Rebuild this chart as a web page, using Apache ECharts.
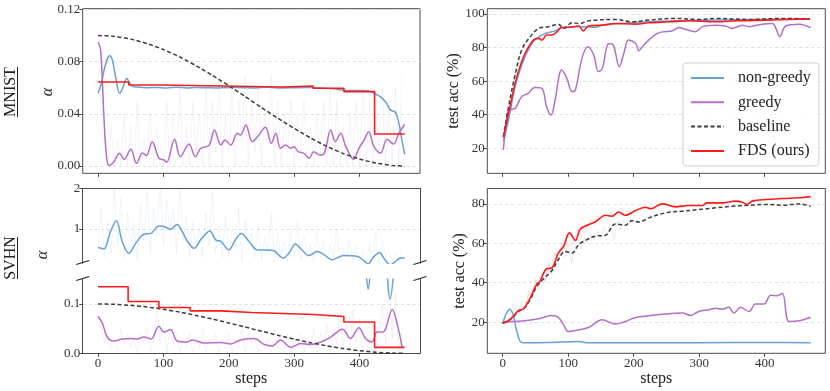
<!DOCTYPE html>
<html>
<head>
<meta charset="utf-8">
<script src="https://cdn.jsdelivr.net/npm/echarts@6.0.0/dist/echarts.min.js"></script>
<style>
html, body { margin: 0; padding: 0; background: #fff; }
#chart { width: 830px; height: 391px; }
</style>
</head>
<body>
<div id="chart"></div>
<script>
// tick positions on the steps axis
var stepTicks = [0, 100, 200, 300, 400];

// MNIST - alpha
var mnBlueX = [0, 5, 10, 15, 18, 22, 27, 33, 38, 44, 51, 60, 75, 90, 105, 120, 135, 150, 165, 180, 200, 220, 240, 260, 280, 300, 320, 340, 360, 376, 395, 412, 425, 432, 440, 447, 455, 460, 464, 469];
var mnBlueY = [0.0557, 0.063, 0.075, 0.083, 0.0845, 0.081, 0.068, 0.0557, 0.060, 0.067, 0.0615, 0.0605, 0.0600, 0.0602, 0.0598, 0.0603, 0.0598, 0.0601, 0.0600, 0.0598, 0.0602, 0.0600, 0.0598, 0.0603, 0.0597, 0.0600, 0.0601, 0.0597, 0.0592, 0.0580, 0.0578, 0.0577, 0.055, 0.053, 0.049, 0.043, 0.041, 0.033, 0.022, 0.009];
var mnPurpleX = [0, 4, 9, 13, 17, 24, 33, 40, 50, 59, 68, 74, 83, 93, 101, 105, 117, 126, 139, 149, 157, 170, 178, 188, 194, 203, 213, 218, 226, 236, 244, 256, 265, 272, 279, 287, 295, 300, 306, 315, 323, 330, 339, 346, 356, 363, 371, 379, 391, 399, 407, 414, 422, 432, 442, 452, 460, 469];
var mnPurpleY = [0.095, 0.089, 0.038, 0.007, 0.0003, 0.003, 0.0097, 0.005, 0.0128, 0.002, 0.010, 0.008, 0.0186, 0.006, 0.0046, 0.0028, 0.0204, 0.0071, 0.0168, 0.0071, 0.0135, 0.016, 0.0276, 0.016, 0.020, 0.016, 0.025, 0.0237, 0.0314, 0.0186, 0.0225, 0.0296, 0.0174, 0.025, 0.0135, 0.016, 0.0135, 0.0148, 0.011, 0.0097, 0.0059, 0.011, 0.0084, 0.0097, 0.0276, 0.0186, 0.025, 0.0148, 0.0051, 0.0135, 0.020, 0.0263, 0.0148, 0.0097, 0.0204, 0.0168, 0.025, 0.032];
var mnRedX = [0, 47, 94, 282, 329, 376, 423, 469];
var mnRedY = [0.0643, 0.0620, 0.0605, 0.0613, 0.0595, 0.0570, 0.0245, 0.0245];
// greedy raw (every 5 steps)
var mnPurpleRaw = [0.1, 0.09, 0.02, 0.0, 0.03, 0.0, 0.02, 0.0, 0.04, 0.0, 0.03, 0.0, 0.05, 0.0, 0.02, 0.01, 0.04, 0.0, 0.03, 0.0,
    0.0, 0.05, 0.0, 0.04, 0.01, 0.06, 0.0, 0.03, 0.0, 0.05, 0.01, 0.04, 0.0, 0.06, 0.0, 0.05, 0.01, 0.07, 0.0, 0.04,
    0.01, 0.06, 0.0, 0.05, 0.02, 0.07, 0.0, 0.05, 0.01, 0.06, 0.0, 0.04, 0.02, 0.07, 0.0, 0.05, 0.0, 0.04, 0.01, 0.05,
    0.0, 0.04, 0.01, 0.05, 0.0, 0.03, 0.0, 0.04, 0.01, 0.05, 0.0, 0.06, 0.0, 0.05, 0.0, 0.03, 0.0, 0.04, 0.0, 0.05,
    0.0, 0.06, 0.0, 0.05, 0.0, 0.04, 0.01, 0.06, 0.0, 0.05, 0.0, 0.06, 0.0, 0.07];

// baseline lr schedule (same in both alpha panels)
var baseX = [0, 25, 50, 75, 100, 125, 150, 175, 200, 225, 250, 275, 300, 325, 350, 375, 400, 425, 450, 469];
var baseY = [0.1, 0.0993, 0.0972, 0.0938, 0.0892, 0.0835, 0.0768, 0.0694, 0.0615, 0.0532, 0.0448, 0.0366, 0.0288, 0.0215, 0.0150, 0.0096, 0.0053, 0.0023, 0.0004, 0.0];

// MNIST - test acc
var maBlueX = [1, 9, 19, 29, 39, 49, 65, 80, 90, 121, 141, 152, 223, 325, 469];
var maBlueY = [24, 36.9, 56.7, 69.6, 78.6, 84.5, 88.5, 90, 92, 92.5, 92, 93.4, 95.4, 96.4, 97.2];
var maPurpleX = [1, 5, 9, 19, 29, 39, 49, 60, 67, 74, 80, 90, 98, 106, 111, 121, 130, 139, 146, 152, 162, 169, 178, 185, 192, 203, 208, 213, 223, 236, 246, 259, 269, 279, 294, 305, 325, 340, 350, 366, 376, 396, 412, 417, 423, 432, 453, 470];
var maPurpleY = [19, 33, 42.8, 43.8, 50.8, 52.8, 56.3, 55.7, 44.8, 39.9, 48.8, 66.6, 61.7, 53.7, 54.7, 73.6, 80.5, 75.6, 65.7, 67.6, 82.5, 81.5, 68.6, 76.6, 84.5, 82.5, 78.2, 80.5, 84.5, 88.5, 89.5, 90, 92, 90.9, 89.5, 92.5, 93.4, 92.9, 91.5, 93.4, 92.5, 94, 94.4, 91.5, 86.5, 92.9, 94, 91.9];
var maBaseX = [1, 9, 19, 29, 42, 55, 70, 85, 93, 106, 118, 131, 172, 197, 223, 264, 299, 325, 376, 427, 469];
var maBaseY = [27, 44.8, 63.7, 78.6, 86.5, 91.5, 92.5, 94, 91.5, 94.8, 94.4, 96, 96.8, 95.4, 96.4, 97.4, 96.8, 97.4, 96.8, 97.4, 97];
var maRedX = [1, 9, 19, 29, 37, 47, 55, 60, 67, 75, 83, 90, 100, 116, 123, 131, 152, 172, 203, 223, 254, 284, 325, 356, 402, 437, 469];
var maRedY = [26.5, 40.8, 58.7, 71.6, 78.6, 84.5, 85.5, 84.5, 87.5, 87.5, 89.5, 92, 92, 92.9, 90, 92.9, 93.4, 94.4, 94, 94.8, 95.4, 96, 95.4, 96, 96.4, 96.8, 97];

// SVHN - alpha
var svBlueX = [0, 9, 19, 28, 37, 47, 58, 70, 81, 93, 101, 111, 121, 129, 137, 147, 157, 171, 180, 188, 200, 210, 219, 231, 244, 259, 269, 283, 292, 302, 312, 323, 335, 346, 358, 376, 397, 407, 413, 421, 431, 437, 447, 455, 463, 469];
var svBlueY = [0.54, 0.51, 0.93, 1.20, 0.69, 0.40, 0.65, 0.87, 0.89, 1.07, 1.06, 0.99, 1.11, 0.93, 0.69, 0.52, 0.73, 0.95, 0.73, 0.69, 0.48, 0.73, 0.89, 0.69, 0.48, 0.48, 0.46, 0.28, 0.40, 0.63, 0.48, 0.34, 0.44, 0.36, 0.24, 0.34, 0.32, 0.21, 0.13, 0.3, 0.42, 0.28, 0.11, 0.2, 0.28, 0.28];
var svPurpleX = [0, 7, 14, 24, 37, 50, 60, 70, 81, 93, 101, 111, 121, 137, 144, 162, 188, 203, 218, 239, 254, 267, 279, 295, 310, 325, 341, 356, 374, 386, 399, 409, 419, 427, 436, 450, 458, 465];
var svPurpleY = [0.075, 0.06, 0.033, 0.025, 0.029, 0.030, 0.029, 0.033, 0.029, 0.055, 0.043, 0.048, 0.025, 0.023, 0.027, 0.021, 0.022, 0.019, 0.027, 0.030, 0.018, 0.015, 0.027, 0.012, 0.020, 0.018, 0.023, 0.033, 0.049, 0.030, 0.052, 0.030, 0.023, 0.043, 0.043, 0.089, 0.057, 0.013];
var svRedX = [0, 46, 93, 141, 188, 235, 282, 329, 376, 423, 469];
var svRedY = [0.135, 0.105, 0.0927, 0.086, 0.0827, 0.0807, 0.0787, 0.0747, 0.0633, 0.012, 0.012];
var svBlueRaw = [0.5, 1.5, 0.3, 1.2, 0.4, 2.0, 0.6, 1.8, 0.3, 1.4, 0.5, 1.1, 0.2, 1.6, 0.7, 1.9, 0.4, 1.5, 0.8, 2.1,
    0.6, 1.7, 0.9, 1.5, 0.4, 2.0, 0.7, 1.3, 0.3, 1.2, 0.5, 1.0, 0.3, 1.4, 0.6, 1.9, 0.4, 1.1, 0.3, 1.3,
    0.3, 1.0, 0.5, 1.5, 0.2, 1.2, 0.6, 0.9, 0.3, 1.1, 0.2, 0.8, 0.4, 1.4, 0.2, 0.9, 0.3, 0.7, 0.2, 1.0,
    0.3, 1.2, 0.2, 0.8, 0.4, 0.6, 0.2, 0.9, 0.3, 0.7, 0.2, 0.6, 0.3, 1.0, 0.2, 0.5, 0.3, 0.7, 0.2, 0.6,
    0.2, 0.5, 0.1, 0.6, 0.2, 0.9, 0.1, 0.7, 0.3, 0.5, 0.1, 0.4, 0.2, 0.5];
var svPurpleRaw = [0.075, 0.05, 0.02, 0.04, 0.01, 0.03, 0.0, 0.05, 0.02, 0.04, 0.01, 0.03, 0.0, 0.04, 0.02, 0.05, 0.0, 0.03, 0.1, 0.02,
    0.06, 0.0, 0.05, 0.02, 0.04, 0.0, 0.03, 0.01, 0.04, 0.0, 0.03, 0.01, 0.05, 0.0, 0.03, 0.02, 0.04, 0.0, 0.03, 0.01,
    0.04, 0.0, 0.03, 0.01, 0.05, 0.0, 0.04, 0.02, 0.03, 0.0, 0.04, 0.01, 0.03, 0.0, 0.05, 0.01, 0.03, 0.0, 0.04, 0.0,
    0.03, 0.01, 0.04, 0.0, 0.03, 0.01, 0.05, 0.0, 0.04, 0.02, 0.06, 0.0, 0.05, 0.02, 0.08, 0.01, 0.06, 0.0, 0.09, 0.02,
    0.07, 0.0, 0.05, 0.02, 0.06, 0.0, 0.04, 0.1, 0.02, 0.15, 0.03, 0.12, 0.0, 0.05];

// SVHN - test acc
var saBlueX = [0, 6, 11, 16, 21, 29, 40, 70, 116, 131, 200, 300, 400, 470];
var saBlueY = [19.5, 24.6, 26.6, 23.7, 16.1, 9.7, 9.6, 9.7, 10.2, 9.5, 9.6, 9.6, 9.7, 9.6];
var saPurpleX = [0, 14, 34, 55, 75, 85, 93, 100, 116, 131, 152, 172, 187, 203, 223, 248, 274, 287, 299, 315, 325, 335, 345, 353, 363, 376, 386, 399, 409, 419, 427, 437, 453, 470];
var saPurpleY = [19.5, 20.3, 20.7, 21.7, 23.4, 22.4, 18.6, 15.3, 16.1, 17.3, 21.2, 19, 20.3, 22.4, 23.2, 24.1, 24.6, 23.4, 25.4, 26.3, 27.1, 26.6, 27.5, 24.6, 27.5, 25.4, 29.2, 29.2, 33.6, 33.4, 34.7, 20.3, 20.7, 22.5];
var saBaseX = [0, 14, 24, 34, 42, 52, 62, 75, 85, 95, 106, 116, 126, 141, 157, 172, 187, 197, 208, 223, 248, 274, 299, 325, 351, 376, 402, 427, 453, 470];
var saBaseY = [19.5, 22, 25.4, 27.5, 31.4, 38.1, 41.9, 46.1, 51.7, 55.9, 55.1, 59.3, 61.4, 63.6, 64.1, 69.8, 69.2, 71.5, 70.8, 72.9, 75.4, 76.3, 77.1, 78, 78.8, 79.3, 79.7, 79.3, 80, 78.8];
var saRedX = [0, 11, 24, 32, 42, 52, 57, 67, 75, 85, 93, 102, 111, 118, 129, 141, 157, 167, 177, 187, 203, 218, 226, 243, 264, 284, 305, 312, 335, 356, 366, 373, 381, 402, 427, 453, 470];
var saRedY = [19.5, 21.2, 25.8, 26.8, 32.2, 39.3, 40.7, 47.1, 47.5, 55.1, 58.5, 65.3, 61.5, 67, 69.2, 70.8, 74.2, 73.7, 75.9, 74.2, 76.6, 78.3, 77.5, 80, 78.5, 79.2, 79.2, 80.5, 80.5, 81.4, 80.8, 79.7, 81.4, 82.2, 82.7, 83.1, 83.7];
// raw traces, steps 0-200 (every 5 steps)
var saRedRaw = [19, 21, 20, 24, 27, 25, 30, 28, 35, 33, 42, 38, 45, 41, 50, 46, 55, 52, 60, 57, 66, 58, 63, 68, 62, 70, 67, 72, 69, 74, 71, 75, 72, 76, 73, 77, 74, 78, 75, 77, 76];
var saBaseRaw = [19, 22, 21, 25, 27, 26, 31, 29, 36, 33, 41, 37, 45, 40, 49, 44, 55, 51, 58, 53, 60, 50, 58, 62, 57, 63, 60, 65, 62, 66, 63, 68, 64, 70, 62, 71, 67, 72, 68, 71, 70];

var cBlue = '#66a1d8';
var cPurple = '#b46fc8';
var cBase = '#3c3c3c';
var cRed = '#ff1a1a';
var cAxis = '#4a4a4a';
var serif = 'Liberation Serif';

function pairs(xs, ys) {
    var out = [];
    for (var i = 0; i < xs.length; i++) out.push([xs[i], ys[i]]);
    return out;
}
function every5(ys) {
    var out = [];
    for (var i = 0; i < ys.length; i++) out.push([i * 5, ys[i]]);
    return out;
}

function line(name, ax, data, color, opts) {
    opts = opts || {};
    return {
        name: name, type: 'line', xAxisIndex: ax[0], yAxisIndex: ax[1], data: data,
        showSymbol: false, symbol: 'none', silent: true,
        smooth: opts.step ? false : (opts.smooth === undefined ? 0.35 : opts.smooth),
        step: opts.step || false,
        lineStyle: { color: color, width: opts.width || 1.5, type: opts.dash || 'solid', opacity: opts.opacity || 1 },
        itemStyle: { color: color }
    };
}
function raw(name, ax, data, color, alpha) {
    return line(name, ax, data, color, { smooth: false, width: 1, opacity: alpha });
}

function xAxis(grid, o) {
    return {
        type: 'value', gridIndex: grid, min: -23.45, max: 492.45, position: o.pos || 'bottom',
        name: o.name || '', nameLocation: 'middle', nameGap: 15,
        nameTextStyle: { fontFamily: serif, fontSize: 16, color: '#222' },
        axisLine: { show: !!o.line, onZero: false, lineStyle: { color: cAxis, width: 1 } },
        axisTick: { show: !!o.ticks, length: 3.5, customValues: stepTicks, lineStyle: { color: cAxis } },
        axisLabel: { show: !!o.labels, customValues: stepTicks, margin: 4, fontFamily: serif, fontSize: 13, color: '#333' },
        splitLine: { show: false }
    };
}

function yAxis(grid, min, max, ticks, digits, o) {
    o = o || {};
    return {
        type: 'value', gridIndex: grid, min: min, max: max,
        name: o.name || '', nameLocation: 'middle', nameGap: o.gap || 20,
        nameTextStyle: { fontFamily: serif, fontSize: 16, color: '#222' },
        axisLine: { show: !!o.line, onZero: false, lineStyle: { color: cAxis, width: 1 } },
        axisTick: { show: true, length: 3.5, customValues: ticks, lineStyle: { color: cAxis } },
        axisLabel: {
            customValues: ticks, margin: 2.5, fontFamily: serif, fontSize: 13, color: '#333',
            formatter: function (v) { return v.toFixed(digits); }
        },
        splitLine: { show: true, lineStyle: { color: '#d6d6d6', type: [3, 3], width: 0.8 } }
    };
}

function spineY(grid) {
    return {
        type: 'value', gridIndex: grid, position: 'right', min: 0, max: 1,
        axisLine: { show: true, onZero: false, lineStyle: { color: cAxis, width: 1 } },
        axisTick: { show: false }, axisLabel: { show: false }, splitLine: { show: false }
    };
}

function breakMark(cx, cy) {
    return { type: 'line', shape: { x1: cx - 6.5, y1: cy + 2, x2: cx + 6.5, y2: cy - 2 }, style: { stroke: '#222', lineWidth: 1.1 }, z: 100 };
}

var frame = { show: true, borderColor: cAxis, borderWidth: 1, backgroundColor: 'transparent' };

option = {
    animation: false,
    backgroundColor: '#fff',
    grid: [
        Object.assign({ left: 82.7, top: 8.7, width: 337.3, height: 164.6 }, frame),
        Object.assign({ left: 487.3, top: 8.7, width: 338, height: 164.6 }, frame),
        { left: 82.7, top: 188.5, width: 337.3, height: 74.8, show: false },
        { left: 82.7, top: 279.3, width: 337.3, height: 74, show: false },
        Object.assign({ left: 487.3, top: 188.5, width: 338, height: 164.8 }, frame)
    ],
    xAxis: [
        xAxis(0, { ticks: true }),
        xAxis(1, { ticks: true }),
        xAxis(2, { pos: 'top', line: true }),
        xAxis(3, { line: true, ticks: true, labels: true, name: 'steps' }),
        xAxis(4, { ticks: true, labels: true, name: 'steps' })
    ],
    yAxis: [
        yAxis(0, -0.0056, 0.1205, [0, 0.04, 0.08, 0.12], 2),
        yAxis(1, 5.1, 103.2, [20, 40, 60, 80, 100], 0, { name: 'test acc (%)', gap: 23 }),
        yAxis(2, 0.15, 2, [1, 2], 0, { line: true }),
        yAxis(3, 0, 0.15, [0, 0.1], 1, { line: true }),
        yAxis(4, 4.2, 87.8, [20, 40, 60, 80], 0, { name: 'test acc (%)', gap: 18 }),
        spineY(2),
        spineY(3)
    ],
    legend: {
        data: ['non-greedy', 'greedy', 'baseline', 'FDS (ours)'],
        orient: 'vertical', left: 683, top: 63,
        itemWidth: 33, itemHeight: 14, itemGap: 8.3,
        padding: [7, 8, 7, 7],
        itemStyle: { opacity: 0 },
        backgroundColor: 'rgba(255,255,255,0.85)', borderColor: '#cfcfcf', borderWidth: 1, borderRadius: 3,
        textStyle: { fontFamily: serif, fontSize: 16, color: '#222', lineHeight: 16, padding: [0, 0, 0, 9] },
        selectedMode: false
    },
    series: [
        // MNIST alpha
        raw('greedy raw', [0, 0], every5(mnPurpleRaw), cPurple, 0.09),
        line('non-greedy', [0, 0], pairs(mnBlueX, mnBlueY), cBlue),
        line('greedy', [0, 0], pairs(mnPurpleX, mnPurpleY), cPurple),
        line('baseline', [0, 0], pairs(baseX, baseY), cBase, { dash: [4, 2.5], smooth: 0.2 }),
        line('FDS (ours)', [0, 0], pairs(mnRedX, mnRedY), cRed, { step: 'end', width: 1.6 }),
        // MNIST test acc
        line('non-greedy', [1, 1], pairs(maBlueX, maBlueY), cBlue),
        line('greedy', [1, 1], pairs(maPurpleX, maPurpleY), cPurple),
        line('baseline', [1, 1], pairs(maBaseX, maBaseY), cBase, { dash: [4, 2.5] }),
        line('FDS (ours)', [1, 1], pairs(maRedX, maRedY), cRed, { width: 1.6 }),
        // SVHN alpha, upper part of the broken axis
        raw('non-greedy raw', [2, 2], every5(svBlueRaw), cBlue, 0.1),
        line('non-greedy', [2, 2], pairs(svBlueX, svBlueY), cBlue),
        // SVHN alpha, lower part
        raw('greedy raw', [3, 3], every5(svPurpleRaw), cPurple, 0.1),
        line('non-greedy', [3, 3], pairs(svBlueX, svBlueY), cBlue),
        line('greedy', [3, 3], pairs(svPurpleX, svPurpleY), cPurple),
        line('baseline', [3, 3], pairs(baseX, baseY), cBase, { dash: [4, 2.5], smooth: 0.2 }),
        line('FDS (ours)', [3, 3], pairs(svRedX, svRedY), cRed, { step: 'end', width: 1.6 }),
        // SVHN test acc
        raw('baseline raw', [4, 4], every5(saBaseRaw), cBase, 0.1),
        raw('FDS raw', [4, 4], every5(saRedRaw), cRed, 0.1),
        line('non-greedy', [4, 4], pairs(saBlueX, saBlueY), cBlue),
        line('greedy', [4, 4], pairs(saPurpleX, saPurpleY), cPurple),
        line('baseline', [4, 4], pairs(saBaseX, saBaseY), cBase, { dash: [4, 2.5] }),
        line('FDS (ours)', [4, 4], pairs(saRedX, saRedY), cRed, { width: 1.6 })
    ],
    graphic: [
        { type: 'text', x: 11, y: 92, rotation: Math.PI / 2, style: { text: 'MNIST', font: '16px "Liberation Serif"', fill: '#222', textAlign: 'center', textVerticalAlign: 'middle' } },
        { type: 'line', shape: { x1: 17.5, y1: 67, x2: 17.5, y2: 117 }, style: { stroke: '#222', lineWidth: 1 } },
        { type: 'text', x: 48, y: 92, rotation: Math.PI / 2, style: { text: 'α', font: 'italic 16px "Liberation Serif"', fill: '#222', textAlign: 'center', textVerticalAlign: 'middle' } },
        { type: 'text', x: 11, y: 258, rotation: Math.PI / 2, style: { text: 'SVHN', font: '16px "Liberation Serif"', fill: '#222', textAlign: 'center', textVerticalAlign: 'middle' } },
        { type: 'line', shape: { x1: 17.5, y1: 237, x2: 17.5, y2: 279 }, style: { stroke: '#222', lineWidth: 1 } },
        { type: 'text', x: 43, y: 255, rotation: Math.PI / 2, style: { text: 'α', font: 'italic 16px "Liberation Serif"', fill: '#222', textAlign: 'center', textVerticalAlign: 'middle' } },
        breakMark(82.7, 262.5),
        breakMark(82.7, 278.5),
        breakMark(420, 262.5),
        breakMark(420, 278.5)
    ]
};

var myChart = echarts.init(document.getElementById('chart'));
myChart.setOption(option);
</script>
</body>
</html>
